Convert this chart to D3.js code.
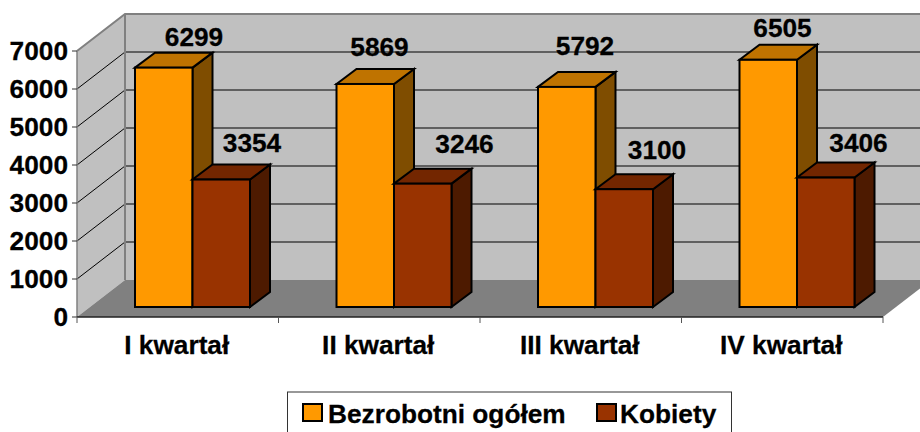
<!DOCTYPE html>
<html><head><meta charset="utf-8">
<script src="https://cdn.jsdelivr.net/npm/d3@7"></script>
<style>html,body{margin:0;padding:0;background:#fff;overflow:hidden}svg{display:block}
text{font-family:"Liberation Sans",Arial,sans-serif;font-weight:bold;fill:#000;stroke:#000;stroke-width:.25px}</style>
</head><body><svg id="c" width="920" height="432"></svg>
<script>
const categories = ["I kwartał","II kwartał","III kwartał","IV kwartał"];
const seriesNames = ["Bezrobotni ogółem","Kobiety"];
const ogolem = [6299,5869,5792,6505];
const kobiety = [3354,3246,3100,3406];
const yTicks = [0,1000,2000,3000,4000,5000,6000,7000];
// hand-placed label centres relative to each bar's left edge / back-top
const ogolemLabelDx = [59,43,47,43], ogolemLabelDy = [-15,-22,-26,-17];
const kobietyLabelDx = [117,128,119,119], kobietyLabelDy = [-21,-24,-24,-19];

const svg = d3.select("#c");
const x = d3.scaleBand().domain(categories).range([77,883]);
const y = d3.scaleLinear().domain([0,7000]).range([317,51]);
const depth = {x:48,y:-37}, barD = {x:20,y:-15};
const base = 307, barOff = 58, barW = 57.5, perUnit = (y(0)-y(1000))/1000;
const pts = a => a.map(p=>p.join(",")).join(" ");
const x0=x.range()[0], x1=x.range()[1], y0=y(0), yTop=y(7000);

// walls
svg.append("polygon").attr("points",pts([[x0+depth.x,y0+depth.y],[x1+depth.x,y0+depth.y],[x1+depth.x,yTop+depth.y],[x0+depth.x,yTop+depth.y]])).attr("fill","#c0c0c0");
svg.append("polygon").attr("points",pts([[x0,y0],[x0+depth.x,y0+depth.y],[x0+depth.x,yTop+depth.y],[x0,yTop]])).attr("fill","#c0c0c0");
svg.selectAll(".g").data(yTicks.filter(d=>d>0&&d<7000)).join("polyline").attr("class","g")
  .attr("points",d=>pts([[x0,y(d)],[x0+depth.x,y(d)+depth.y],[x1+depth.x,y(d)+depth.y]]))
  .attr("fill","none").attr("stroke","#000").attr("stroke-width",1);
svg.append("polyline").attr("points",pts([[x0,yTop],[x0+depth.x,yTop+depth.y],[x1+depth.x,yTop+depth.y]])).attr("fill","none").attr("stroke","#808080").attr("stroke-width",2);
svg.append("line").attr("x1",x0+depth.x).attr("x2",x0+depth.x).attr("y1",yTop+depth.y).attr("y2",y0+depth.y).attr("stroke","#808080").attr("stroke-width",2);
// floor
svg.append("polygon").attr("points",pts([[x0,y0],[x0+depth.x,y0+depth.y],[x1+depth.x,y0+depth.y],[x1,y0]])).attr("fill","#808080");

// axes
svg.append("line").attr("x1",x0).attr("x2",x0).attr("y1",yTop).attr("y2",y0).attr("stroke","#808080").attr("stroke-width",1.5);
svg.append("line").attr("x1",x0).attr("x2",x1).attr("y1",y0).attr("y2",y0).attr("stroke","#222").attr("stroke-width",1.5);
svg.selectAll(".yt").data(yTicks).join("line").attr("class","yt").attr("x1",x0-5).attr("x2",x0).attr("y1",d=>y(d)).attr("y2",d=>y(d)).attr("stroke","#333");
svg.selectAll(".xt").data([...categories.map(c=>x(c)),x1]).join("line").attr("class","xt").attr("x1",d=>d).attr("x2",d=>d).attr("y1",y0).attr("y2",y0+6).attr("stroke","#555");

function bars(vals, off, front, top, side){
  const g = svg.append("g").attr("stroke","#000").attr("stroke-width",2).attr("stroke-linejoin","miter");
  categories.forEach((c,i)=>{
    const l=x(c)+barOff+off*barW, r=l+barW, t=base-vals[i]*perUnit, d=barD;
    g.append("polygon").attr("points",pts([[r,base],[r+d.x,base+d.y],[r+d.x,t+d.y],[r,t]])).attr("fill",side);
    g.append("polygon").attr("points",pts([[l,t],[l+d.x,t+d.y],[r+d.x,t+d.y],[r,t]])).attr("fill",top);
    g.append("rect").attr("x",l).attr("y",t).attr("width",barW).attr("height",base-t).attr("fill",front);
  });
}
bars(ogolem,0,"#ff9900","#bf7300","#7f4d00");
bars(kobiety,1,"#993300","#732600","#4d1a00");

const fs=25, sx=1.05;
function label(txt,cx,cyMid,anchor){
  // Arial drawn slightly stretched horizontally as in the reference
  return svg.append("text").text(txt).attr("font-size",fs).attr("text-anchor",anchor||"middle")
    .attr("transform",`translate(${cx},${cyMid+fs*0.35}) scale(${sx},1)`);
}
categories.forEach((c,i)=>{
  label(ogolem[i],x(c)+barOff+ogolemLabelDx[i],base-ogolem[i]*perUnit+barD.y+ogolemLabelDy[i]);
  label(kobiety[i],x(c)+barOff+kobietyLabelDx[i],base-kobiety[i]*perUnit+barD.y+kobietyLabelDy[i]);
  label(c,x(c)+x.bandwidth()/2-1,345);
});
yTicks.forEach(d=>label(d,68,y(d),"end"));

// legend
svg.append("rect").attr("x",287.5).attr("y",392).attr("width",444).attr("height",50).attr("fill","#fff").attr("stroke","#333").attr("stroke-width",1);
const lg=[{c:"#ff9900",sw:303,t:328},{c:"#993300",sw:597,t:620}];
lg.forEach((l,i)=>{
  svg.append("rect").attr("x",l.sw).attr("y",404).attr("width",19).attr("height",17).attr("fill",l.c).attr("stroke","#000").attr("stroke-width",2);
  label(seriesNames[i],l.t,414,"start");
});
</script></body></html>
